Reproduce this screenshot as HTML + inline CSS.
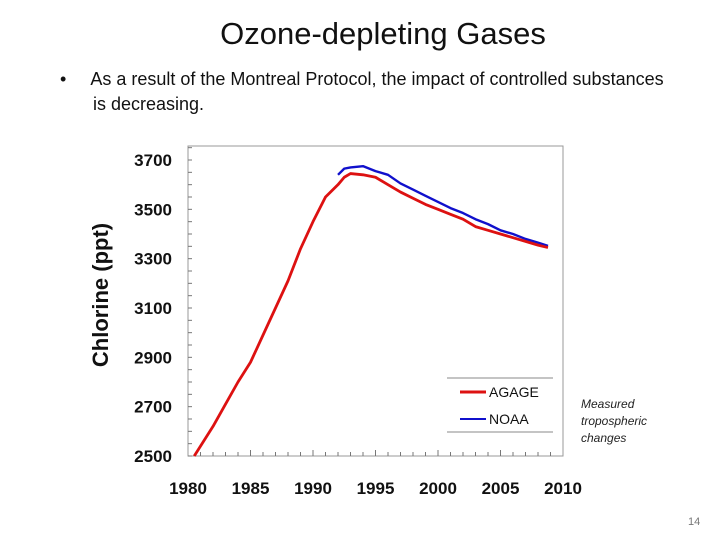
<!DOCTYPE html>
<html><head><meta charset="utf-8"><style>
body{margin:0;background:#fff;width:720px;height:540px;overflow:hidden;position:relative;font-family:"Liberation Sans",sans-serif}
.t{position:absolute;white-space:nowrap}
</style></head><body>
<div class="t" style="left:0;width:766px;text-align:center;top:16px;font-size:31px;color:#111">Ozone-depleting Gases</div>
<div class="t" style="left:60px;top:67px;font-size:18px;line-height:25px;color:#111">•<span style="display:inline-block;width:24px"></span>As a result of the Montreal Protocol, the impact of controlled substances<br><span style="padding-left:33px">is decreasing.</span></div>
<div class="t" style="left:581px;top:396px;font-size:12px;line-height:17px;font-style:italic;color:#222">Measured<br>tropospheric<br>changes</div>
<div class="t" style="left:688px;top:516px;font-size:11px;color:#777">14</div>
<svg width="720" height="540" style="position:absolute;left:0;top:0">
<g id="g"></g>
<text transform="translate(108,295) rotate(-90)" text-anchor="middle" font-weight="bold" font-size="22" font-family="Liberation Sans,sans-serif" fill="#111">Chlorine (ppt)</text>
</svg>
<script>
const yTicks=[2500,2700,2900,3100,3300,3500,3700];
const xTicks=[1980,1985,1990,1995,2000,2005,2010];
const agageYears=[1980.5,1981,1982,1983,1984,1985,1986,1987,1988,1989,1990,1991,1992,1992.5,1993,1994,1995,1996,1997,1998,1999,2000,2001,2002,2003,2004,2005,2006,2007,2008,2008.8];
const agageVals=[2500,2540,2620,2710,2800,2880,2990,3100,3210,3340,3450,3550,3600,3630,3645,3640,3630,3600,3570,3545,3520,3500,3480,3460,3430,3415,3400,3385,3370,3355,3345];
const noaaYears=[1992,1992.5,1993,1994,1995,1996,1997,1998,1999,2000,2001,2002,2003,2004,2005,2006,2007,2008,2008.8];
const noaaVals=[3640,3665,3670,3675,3655,3640,3605,3580,3555,3530,3505,3485,3460,3440,3415,3400,3380,3365,3352];
const L=188,R=563,T=146,B=456;
const x=v=>L+(v-1980)*(R-L)/30;
const y=v=>B-(v-2500)*(B-160)/1200;
const g=document.getElementById('g');const NS='http://www.w3.org/2000/svg';
function mk(t,a,p){const e=document.createElementNS(NS,t);for(const k in a)e.setAttribute(k,a[k]);(p||g).appendChild(e);return e;}
let f=mk('rect',{x:L,y:T,width:R-L,height:B-T,fill:'none',stroke:'#999','stroke-width':1});


for(let v=2500;v<=3750;v+=50){mk('line',{x1:L,x2:L+4,y1:y(v),y2:y(v),stroke:'#777'});}
for(let v=1981;v<2010;v++){mk('line',{x1:x(v),x2:x(v),y1:B,y2:B-(v%5?4:6),stroke:'#777'});}
yTicks.forEach(v=>{const t=mk('text',{x:172,y:y(v)+6,'text-anchor':'end','font-weight':'bold','font-size':17,fill:'#111'});t.textContent=v;

});
xTicks.forEach(v=>{const t=mk('text',{x:x(v),y:494,'text-anchor':'middle','font-weight':'bold','font-size':17,fill:'#111'});t.textContent=v;

});
function line(xs,vs,c,w,n){const p=mk('polyline',{points:xs.map((a,i)=>x(a)+','+y(vs[i])).join(' '),fill:'none',stroke:c,'stroke-width':w,'stroke-linejoin':'round'});

}
line(noaaYears,noaaVals,'#1010cc',2.4,'noaa-line');
line(agageYears,agageVals,'#dd1111',2.8,'agage-line');
mk('line',{x1:447,x2:553,y1:378,y2:378,stroke:'#888'});mk('line',{x1:447,x2:553,y1:432,y2:432,stroke:'#888'});
mk('line',{x1:460,x2:486,y1:392,y2:392,stroke:'#dd1111','stroke-width':3});
mk('line',{x1:460,x2:486,y1:419,y2:419,stroke:'#1010cc','stroke-width':2});
let a=mk('text',{x:489,y:397,'font-size':14,fill:'#111'});a.textContent='AGAGE';


let b=mk('text',{x:489,y:424,'font-size':14,fill:'#111'});b.textContent='NOAA';


</script>
</body></html>
